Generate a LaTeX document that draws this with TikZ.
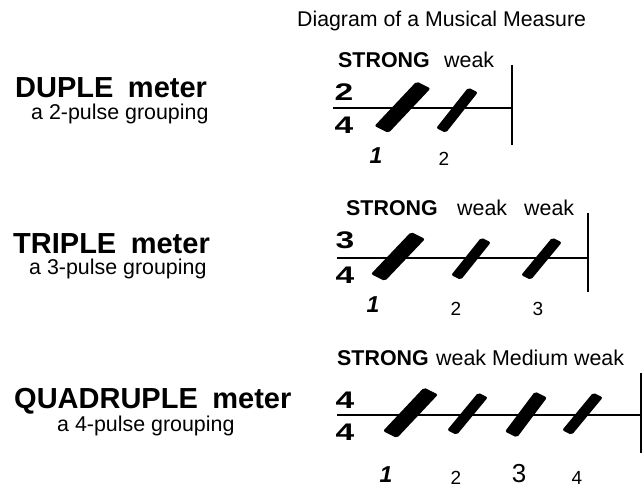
\documentclass[tikz,border=0pt]{standalone}
\usepackage{fontspec}
\setmainfont{Liberation Sans}
\usetikzlibrary{positioning,calc}
\newcommand{\fsz}[1]{\fontsize{#1}{#1}\selectfont}
% one beat: bottom centre, top centre, half width of the cut
\newcommand{\pulse}[5]{%
  \fill[pulsefill] ({#1-#5},{#2-#5/2}) -- ({#1+#5},{#2+#5/2})
    -- ({#3+#5},{#4+#5/2}) -- ({#3-#5},{#4-#5/2}) -- cycle;}
\tikzset{
  txt/.style={inner sep=0pt,anchor=base west},
  meter/.style={txt,font=\fsz{29}\bfseries},
  grouping/.style={txt,font=\fsz{21.4}},
  accent/.style={txt,font=\fsz{21.4}\bfseries},
  stress/.style={txt,font=\fsz{21.4}},
  timesig/.style={inner sep=0pt,anchor=base,font=\fsz{24}\bfseries,
                  xscale=1.4,transform shape},
  beatone/.style={inner sep=0pt,anchor=base,font=\fsz{23}\bfseries\itshape},
  beatnum/.style={inner sep=0pt,anchor=base,font=\fsz{19}},
  beatmid/.style={inner sep=0pt,anchor=base,font=\fsz{26}},
  staff/.style={line width=1.6pt},
  barline/.style={line width=1.3pt},
  pulsefill/.style={fill=black,rounded corners=2pt},
}
\begin{document}
\begin{tikzpicture}[x=1pt,y=-1pt]
  \useasboundingbox (0,0) rectangle (642,487);

  \node[txt,font=\fsz{21.3}] (title) at (297,27) {Diagram of a Musical Measure};

  % left column
  \node[meter] (duple) at (15,97) {DUPLE\hspace{0.5em}meter};
  \node[grouping] (duplesub) at (31,119) {a 2-pulse grouping};
  \node[meter] (triple) at (13,253) {TRIPLE\hspace{0.5em}meter};
  \node[grouping] (triplesub) at (29,274) {a 3-pulse grouping};
  \node[meter] (quad) at (14,408) {QUADRUPLE\hspace{0.5em}meter};
  \node[grouping] (quadsub) at (57,431) {a 4-pulse grouping};

  % duple measure
  \node[accent] (dstrong) at (338,67) {STRONG};
  \node[stress] (dweak) at (444,67) {weak};
  \node[timesig] (dtop) at (344,100) {2};
  \node[timesig] (dbot) at (344,133) {4};
  \coordinate (dstart) at (333,108);
  \coordinate (dend) at (512,108);
  \coordinate (dbarT) at (512,65);
  \coordinate (dbarB) at (512,145);
  \draw[staff] (dstart) -- (dend);
  \draw[barline] (dbarT) -- (dbarB);
  \pulse{381.5}{129.5}{423.5}{85}{7}
  \pulse{441}{130.5}{473}{90}{4.8}
  \node[beatone] (done) at (376,163) {1};
  \node[beatnum] (dtwo) at (444,165) {2};

  % triple measure
  \node[accent] (tstrong) at (346,215) {STRONG};
  \node[stress] (tweaka) at (457,215) {weak};
  \node[stress] (tweakb) at (524,215) {weak};
  \node[timesig] (ttop) at (345,248) {3};
  \node[timesig] (tbot) at (345,283) {4};
  \coordinate (tstart) at (337,258);
  \coordinate (tend) at (588,258);
  \coordinate (tbarT) at (588,213);
  \coordinate (tbarB) at (588,292);
  \draw[staff] (tstart) -- (tend);
  \draw[barline] (tbarT) -- (tbarB);
  \pulse{378}{277.5}{418}{235.5}{7}
  \pulse{456}{277.5}{486}{240}{4.8}
  \pulse{526}{277.5}{557}{240}{4.8}
  \node[beatone] (tone) at (373,312) {1};
  \node[beatnum] (ttwo) at (456,315) {2};
  \node[beatnum] (tthree) at (538,315) {3};

  % quadruple measure
  \node[accent] (qstrong) at (337,365) {STRONG};
  \node[stress] (qrest) at (436,365) {weak Medium weak};
  \node[timesig] (qtop) at (345,408) {4};
  \node[timesig] (qbot) at (345,440) {4};
  \coordinate (qstart) at (337,415);
  \coordinate (qend) at (641,415);
  \coordinate (qbarT) at (641,373);
  \coordinate (qbarB) at (641,453);
  \draw[staff] (qstart) -- (qend);
  \draw[barline] (qbarT) -- (qbarB);
  \pulse{390}{434.5}{431}{391}{7}
  \pulse{452}{432.5}{483}{395}{4.8}
  \pulse{511}{434.5}{541}{394.5}{6}
  \pulse{567}{432.5}{598}{395}{4.8}
  \node[beatone] (qone) at (386,482) {1};
  \node[beatnum] (qtwo) at (456,484) {2};
  \node[beatmid] (qthree) at (519,482) {3};
  \node[beatnum] (qfour) at (577,484) {4};
\end{tikzpicture}
\end{document}
